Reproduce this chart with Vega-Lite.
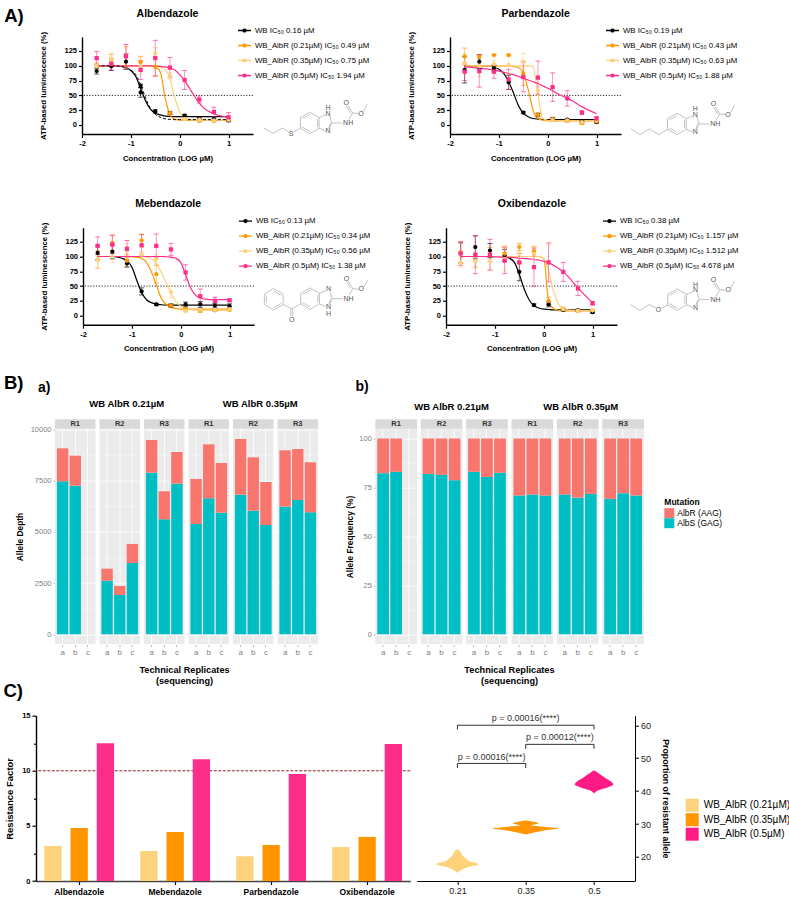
{
"$schema":"https://vega.github.io/schema/vega-lite/v6.json",
"padding":{"left":3,"top":6,"right":0,"bottom":0},
"background":"white",
"config":{"font":"Liberation Sans","view":{"stroke":null},"axis":{"grid":false,"domainColor":"#000","domainWidth":1.4,"tickColor":"#000","tickWidth":1.2,"tickSize":3.5,"labelFontSize":7.5,"labelFontWeight":"bold","labelColor":"#000","titleFontSize":7.8,"titleFontWeight":"bold","titleColor":"#000","labelPadding":2,"labelOverlap":false,"labelFlush":false},"legend":{"labelColor":"#000"}},
"datasets":{
"ring":[{"x":897,"y":349,"x2":925,"y2":333},{"x":925,"y":333,"x2":953,"y2":349},{"x":953,"y":349,"x2":953,"y2":381},{"x":953,"y":381,"x2":925,"y2":397},{"x":925,"y":397,"x2":897,"y2":381},{"x":897,"y":381,"x2":897,"y2":349},{"x":903,"y":352,"x2":925,"y2":340},{"x":948,"y":353,"x2":948,"y2":377},{"x":925,"y":390,"x2":902,"y2":377},{"x":953,"y":349,"x2":973,"y2":341},{"x":985,"y":344,"x2":991,"y2":365},{"x":991,"y":365,"x2":984,"y2":382},{"x":974,"y":389,"x2":953,"y2":381},{"x":987,"y":366,"x2":981,"y2":382},{"x":991,"y":365,"x2":1022,"y2":365},{"x":1042,"y":355,"x2":1053,"y2":335},{"x":1053,"y":335,"x2":1040,"y2":314},{"x":1047,"y":335,"x2":1034,"y2":314},{"x":1053,"y":335,"x2":1070,"y2":337},{"x":1086,"y":331,"x2":1097,"y2":309}],
"tail_alb":[{"x":787,"y":380,"x2":815,"y2":396},{"x":815,"y":396,"x2":843,"y2":380},{"x":843,"y":380,"x2":862,"y2":392},{"x":877,"y":392,"x2":897,"y2":381}],
"txt_alb":[{"x":980,"y":337,"t":"N"},{"x":980,"y":321,"t":"H"},{"x":980,"y":390,"t":"N"},{"x":1040,"y":365,"t":"NH"},{"x":1034,"y":306,"t":"O"},{"x":1078,"y":337,"t":"O"},{"x":869,"y":397,"t":"S"}],
"tail_par":[{"x":787,"y":380,"x2":815,"y2":397},{"x":815,"y":397,"x2":843,"y2":380},{"x":843,"y":380,"x2":871,"y2":397},{"x":871,"y":397,"x2":897,"y2":381}],
"txt_par":[{"x":980,"y":337,"t":"N"},{"x":980,"y":321,"t":"H"},{"x":980,"y":390,"t":"N"},{"x":1040,"y":365,"t":"NH"},{"x":1034,"y":306,"t":"O"},{"x":1078,"y":337,"t":"O"}],
"tail_oxi":[{"x":785,"y":380,"x2":813,"y2":397},{"x":813,"y":397,"x2":841,"y2":380},{"x":841,"y":380,"x2":862,"y2":390},{"x":878,"y":390,"x2":897,"y2":381}],
"txt_oxi":[{"x":980,"y":337,"t":"N"},{"x":980,"y":321,"t":"H"},{"x":980,"y":390,"t":"N"},{"x":1040,"y":365,"t":"NH"},{"x":1034,"y":306,"t":"O"},{"x":1078,"y":337,"t":"O"},{"x":869,"y":395,"t":"O"}],
"tail_meb":[{"x":816,"y":335,"x2":844,"y2":351},{"x":844,"y":351,"x2":844,"y2":383},{"x":844,"y":383,"x2":816,"y2":399},{"x":816,"y":399,"x2":788,"y2":383},{"x":788,"y":383,"x2":788,"y2":351},{"x":788,"y":351,"x2":816,"y2":335},{"x":816,"y":342,"x2":838,"y2":355},{"x":838,"y":379,"x2":816,"y2":392},{"x":794,"y":379,"x2":794,"y2":355},{"x":844,"y":383,"x2":870,"y2":395},{"x":870,"y":395,"x2":897,"y2":381},{"x":867,"y":395,"x2":867,"y2":418},{"x":873,"y":395,"x2":873,"y2":418}],
"txt_meb":[{"x":980,"y":337,"t":"N"},{"x":980,"y":411,"t":"H"},{"x":980,"y":391,"t":"N"},{"x":1040,"y":365,"t":"NH"},{"x":1034,"y":306,"t":"O"},{"x":1078,"y":337,"t":"O"},{"x":870,"y":428,"t":"O"}],
"alb_d":[{"x":-1.7,"y":100},{"x":-1.4,"y":100},{"x":-1.2,"y":99},{"x":-1.1,"y":97},{"x":-1,"y":93},{"x":-0.9,"y":85},{"x":-0.8,"y":68},{"x":-0.7,"y":46},{"x":-0.6,"y":28},{"x":-0.5,"y":18},{"x":-0.4,"y":13},{"x":-0.3,"y":10.5},{"x":-0.2,"y":9.5},{"x":-0.1,"y":9},{"x":0,"y":9},{"x":0.5,"y":9},{"x":1,"y":9}],
"alb_c":[{"x":-1.7,"WB":100,"A21":100,"A35":100,"A50":100},{"x":-1.4,"WB":100,"A21":100,"A35":100,"A50":100},{"x":-1.2,"WB":99,"A21":100,"A35":100,"A50":100},{"x":-1.1,"WB":97,"A21":100,"A35":100,"A50":100},{"x":-1,"WB":92,"A21":100,"A35":100,"A50":100},{"x":-0.9,"WB":82,"A21":100,"A35":100,"A50":100},{"x":-0.8,"WB":62,"A21":100,"A35":100,"A50":100},{"x":-0.7,"WB":41,"A21":100,"A35":100,"A50":100},{"x":-0.6,"WB":27,"A21":100,"A35":100,"A50":100},{"x":-0.5,"WB":20,"A21":98,"A35":100,"A50":99},{"x":-0.4,"WB":17,"A21":90,"A35":98,"A50":99},{"x":-0.3,"WB":15,"A21":47,"A35":94,"A50":98},{"x":-0.2,"WB":14.5,"A21":17,"A35":78,"A50":96},{"x":-0.1,"WB":14,"A21":10,"A35":46,"A50":93},{"x":0,"WB":14,"A21":8.5,"A35":22,"A50":85},{"x":0.1,"WB":14,"A21":8,"A35":12,"A50":75},{"x":0.2,"WB":14,"A21":8,"A35":9,"A50":62},{"x":0.3,"WB":14,"A21":8,"A35":8.5,"A50":49},{"x":0.4,"WB":14,"A21":8,"A35":8,"A50":37},{"x":0.5,"WB":14,"A21":8,"A35":8,"A50":28},{"x":0.7,"WB":14,"A21":8,"A35":8,"A50":19},{"x":1,"WB":14,"A21":8,"A35":8,"A50":13}],
"par_c":[{"x":-1.7,"WB":100,"A21":100,"A35":100,"A50":98},{"x":-1.4,"WB":100,"A21":100,"A35":100,"A50":96},{"x":-1.2,"WB":100,"A21":100,"A35":100,"A50":94},{"x":-1.1,"WB":98,"A21":100,"A35":100,"A50":93},{"x":-1,"WB":94,"A21":100,"A35":100,"A50":91},{"x":-0.9,"WB":87,"A21":100,"A35":100,"A50":89},{"x":-0.8,"WB":73,"A21":99.5,"A35":100,"A50":87},{"x":-0.7,"WB":54,"A21":99,"A35":100,"A50":85},{"x":-0.6,"WB":33,"A21":97,"A35":100,"A50":82},{"x":-0.5,"WB":20,"A21":88,"A35":100,"A50":79},{"x":-0.4,"WB":14,"A21":60,"A35":100,"A50":76},{"x":-0.3,"WB":11,"A21":25,"A35":99,"A50":73},{"x":-0.2,"WB":10,"A21":11,"A35":50,"A50":70},{"x":-0.1,"WB":9.5,"A21":8,"A35":11,"A50":66},{"x":0,"WB":9,"A21":7,"A35":8,"A50":62},{"x":0.1,"WB":9,"A21":7,"A35":7,"A50":58},{"x":0.2,"WB":9,"A21":7,"A35":7,"A50":53},{"x":0.3,"WB":9,"A21":7,"A35":7,"A50":49},{"x":0.4,"WB":9,"A21":7,"A35":7,"A50":45},{"x":0.5,"WB":9,"A21":7,"A35":7,"A50":41},{"x":0.7,"WB":9,"A21":7,"A35":7,"A50":31},{"x":1,"WB":9,"A21":7,"A35":7,"A50":19}],
"meb_c":[{"x":-1.7,"WB":100,"A21":100,"A35":100,"A50":100},{"x":-1.4,"WB":100,"A21":100,"A35":100,"A50":100},{"x":-1.2,"WB":97,"A21":100,"A35":100,"A50":100},{"x":-1.1,"WB":93,"A21":100,"A35":100,"A50":100},{"x":-1,"WB":82,"A21":99.5,"A35":100,"A50":100},{"x":-0.9,"WB":60,"A21":99,"A35":100,"A50":100},{"x":-0.8,"WB":39,"A21":97,"A35":100,"A50":100},{"x":-0.7,"WB":27,"A21":90,"A35":99,"A50":100},{"x":-0.6,"WB":22,"A21":74,"A35":96,"A50":100},{"x":-0.5,"WB":19.5,"A21":52,"A35":88,"A50":100},{"x":-0.4,"WB":18.5,"A21":30,"A35":74,"A50":100},{"x":-0.3,"WB":18,"A21":19,"A35":56,"A50":99.5},{"x":-0.2,"WB":18,"A21":14,"A35":38,"A50":99},{"x":-0.1,"WB":18,"A21":12,"A35":24,"A50":97},{"x":0,"WB":18,"A21":11,"A35":16,"A50":90},{"x":0.1,"WB":18,"A21":11,"A35":12,"A50":70},{"x":0.2,"WB":18,"A21":11,"A35":10,"A50":47},{"x":0.3,"WB":18,"A21":11,"A35":9.5,"A50":35},{"x":0.4,"WB":18,"A21":11,"A35":9,"A50":30},{"x":0.5,"WB":18,"A21":11,"A35":9,"A50":28},{"x":0.7,"WB":18,"A21":11,"A35":9,"A50":27},{"x":1,"WB":18,"A21":11,"A35":9,"A50":27}],
"oxi_c":[{"x":-1.7,"WB":100,"A21":100,"A35":100,"A50":100},{"x":-1.4,"WB":100,"A21":100,"A35":100,"A50":100},{"x":-1.2,"WB":100,"A21":100,"A35":100,"A50":100},{"x":-1.1,"WB":100,"A21":100,"A35":100,"A50":99.5},{"x":-1,"WB":100,"A21":100,"A35":100,"A50":99.5},{"x":-0.9,"WB":100,"A21":100,"A35":100,"A50":99},{"x":-0.8,"WB":99,"A21":100,"A35":100,"A50":99},{"x":-0.7,"WB":97,"A21":100,"A35":100,"A50":98.5},{"x":-0.6,"WB":90,"A21":100,"A35":100,"A50":98},{"x":-0.5,"WB":70,"A21":100,"A35":100,"A50":97},{"x":-0.4,"WB":45,"A21":100,"A35":100,"A50":96.5},{"x":-0.3,"WB":27,"A21":100,"A35":100,"A50":96},{"x":-0.2,"WB":17,"A21":100,"A35":100,"A50":95},{"x":-0.1,"WB":13,"A21":100,"A35":100,"A50":94},{"x":0,"WB":11,"A21":97,"A35":97,"A50":92},{"x":0.1,"WB":10.5,"A21":25,"A35":75,"A50":90},{"x":0.2,"WB":10,"A21":12,"A35":42,"A50":85},{"x":0.3,"WB":10,"A21":9,"A35":20,"A50":80},{"x":0.4,"WB":10,"A21":8.5,"A35":12,"A50":74},{"x":0.5,"WB":10,"A21":8,"A35":9.5,"A50":66},{"x":0.7,"WB":10,"A21":8,"A35":8.5,"A50":47},{"x":1,"WB":10,"A21":8,"A35":8,"A50":22}],
"alb_p":[{"s":"WB","x":-1.7,"y":91,"lo":86,"hi":96},{"s":"WB","x":-1.4,"y":99,"lo":92,"hi":106},{"s":"WB","x":-1.1,"y":107,"lo":94,"hi":120},{"s":"WB","x":-0.8,"y":55,"lo":47,"hi":63},{"s":"WB","x":-0.8,"y":66,"lo":63,"hi":69},{"s":"WB","x":-0.5,"y":23,"lo":20,"hi":26},{"s":"WB","x":-0.2,"y":20,"lo":18,"hi":22},{"s":"WB","x":0.1,"y":16,"lo":14,"hi":18},{"s":"WB","x":0.4,"y":11,"lo":9,"hi":13},{"s":"WB","x":0.7,"y":10,"lo":8,"hi":12},{"s":"WB","x":1,"y":8,"lo":6,"hi":10},
{"s":"A21","x":-1.7,"y":100,"lo":96,"hi":104},{"s":"A21","x":-1.4,"y":111,"lo":103,"hi":119},{"s":"A21","x":-1.1,"y":116,"lo":100,"hi":132},{"s":"A21","x":-0.8,"y":106,"lo":96,"hi":116},{"s":"A21","x":-0.5,"y":98,"lo":82,"hi":114},{"s":"A21","x":-0.2,"y":20,"lo":17,"hi":23},{"s":"A21","x":0.1,"y":10,"lo":8,"hi":12},{"s":"A21","x":0.4,"y":7,"lo":5,"hi":9},{"s":"A21","x":0.7,"y":7,"lo":5,"hi":9},{"s":"A21","x":1,"y":9,"lo":7,"hi":11},
{"s":"A35","x":-1.7,"y":100,"lo":95,"hi":105},{"s":"A35","x":-1.4,"y":112,"lo":102,"hi":122},{"s":"A35","x":-1.1,"y":116,"lo":96,"hi":136},{"s":"A35","x":-0.8,"y":100,"lo":85,"hi":115},{"s":"A35","x":-0.5,"y":121,"lo":111,"hi":131},{"s":"A35","x":-0.2,"y":82,"lo":76,"hi":88},{"s":"A35","x":0.1,"y":10,"lo":8,"hi":12},{"s":"A35","x":0.4,"y":9,"lo":7,"hi":11},{"s":"A35","x":0.7,"y":8,"lo":6,"hi":10},{"s":"A35","x":1,"y":9,"lo":7,"hi":11},
{"s":"A50","x":-1.7,"y":113,"lo":102,"hi":124},{"s":"A50","x":-1.4,"y":103,"lo":93,"hi":113},{"s":"A50","x":-1.1,"y":116,"lo":96,"hi":136},{"s":"A50","x":-0.8,"y":93,"lo":77,"hi":109},{"s":"A50","x":-0.5,"y":113,"lo":83,"hi":143},{"s":"A50","x":-0.2,"y":97,"lo":80,"hi":114},{"s":"A50","x":0.1,"y":76,"lo":60,"hi":92},{"s":"A50","x":0.4,"y":43,"lo":37,"hi":49},{"s":"A50","x":0.7,"y":22,"lo":14,"hi":30},{"s":"A50","x":1,"y":13,"lo":5,"hi":21}],
"par_p":[{"s":"WB","x":-1.7,"y":93,"lo":71,"hi":115},{"s":"WB","x":-1.4,"y":107,"lo":95,"hi":119},{"s":"WB","x":-1.1,"y":96,"lo":91,"hi":101},{"s":"WB","x":-0.8,"y":72,"lo":60,"hi":84},{"s":"WB","x":-0.5,"y":21,"lo":19,"hi":23},{"s":"WB","x":-0.2,"y":17,"lo":14,"hi":20},{"s":"WB","x":0.1,"y":10,"lo":7,"hi":13},{"s":"WB","x":0.4,"y":9,"lo":7,"hi":11},{"s":"WB","x":0.7,"y":6,"lo":4,"hi":8},{"s":"WB","x":1,"y":5,"lo":3,"hi":7},
{"s":"A21","x":-1.7,"y":116,"lo":102,"hi":130},{"s":"A21","x":-1.4,"y":115,"lo":112,"hi":118},{"s":"A21","x":-1.1,"y":118,"lo":117,"hi":119},{"s":"A21","x":-0.8,"y":118,"lo":117,"hi":119},{"s":"A21","x":-0.5,"y":87,"lo":67,"hi":107},{"s":"A21","x":-0.2,"y":17,"lo":14,"hi":20},{"s":"A21","x":0.1,"y":10,"lo":8,"hi":12},{"s":"A21","x":0.4,"y":7,"lo":5,"hi":9},{"s":"A21","x":0.7,"y":3,"lo":1,"hi":5},{"s":"A21","x":1,"y":6,"lo":4,"hi":8},
{"s":"A35","x":-1.7,"y":105,"lo":90,"hi":120},{"s":"A35","x":-1.4,"y":100,"lo":82,"hi":118},{"s":"A35","x":-1.1,"y":103,"lo":97,"hi":109},{"s":"A35","x":-0.8,"y":101,"lo":86,"hi":116},{"s":"A35","x":-0.5,"y":107,"lo":93,"hi":121},{"s":"A35","x":-0.2,"y":58,"lo":50,"hi":66},{"s":"A35","x":0.1,"y":8,"lo":6,"hi":10},{"s":"A35","x":0.4,"y":8,"lo":6,"hi":10},{"s":"A35","x":0.7,"y":5,"lo":3,"hi":7},{"s":"A35","x":1,"y":8,"lo":6,"hi":10},
{"s":"A50","x":-1.7,"y":90,"lo":75,"hi":105},{"s":"A50","x":-1.4,"y":91,"lo":64,"hi":118},{"s":"A50","x":-1.1,"y":90,"lo":79,"hi":101},{"s":"A50","x":-0.8,"y":77,"lo":60,"hi":94},{"s":"A50","x":-0.5,"y":81,"lo":56,"hi":106},{"s":"A50","x":-0.2,"y":80,"lo":52,"hi":108},{"s":"A50","x":0.1,"y":64,"lo":40,"hi":88},{"s":"A50","x":0.4,"y":45,"lo":32,"hi":58},{"s":"A50","x":0.7,"y":21,"lo":18,"hi":24},{"s":"A50","x":1,"y":11,"lo":8,"hi":14}],
"meb_p":[{"s":"WB","x":-1.7,"y":106,"lo":94,"hi":118},{"s":"WB","x":-1.4,"y":108,"lo":96,"hi":120},{"s":"WB","x":-1.1,"y":88,"lo":82,"hi":94},{"s":"WB","x":-0.8,"y":41,"lo":35,"hi":47},{"s":"WB","x":-0.5,"y":19,"lo":17,"hi":21},{"s":"WB","x":-0.2,"y":17,"lo":14,"hi":20},{"s":"WB","x":0.1,"y":19,"lo":15,"hi":23},{"s":"WB","x":0.4,"y":19,"lo":14,"hi":24},{"s":"WB","x":0.7,"y":17,"lo":13,"hi":21},{"s":"WB","x":1,"y":16,"lo":12,"hi":20},
{"s":"A21","x":-1.7,"y":95,"lo":80,"hi":110},{"s":"A21","x":-1.4,"y":123,"lo":109,"hi":137},{"s":"A21","x":-1.1,"y":93,"lo":83,"hi":103},{"s":"A21","x":-0.8,"y":127,"lo":116,"hi":138},{"s":"A21","x":-0.5,"y":70,"lo":55,"hi":85},{"s":"A21","x":-0.2,"y":17,"lo":14,"hi":20},{"s":"A21","x":0.1,"y":11,"lo":8,"hi":14},{"s":"A21","x":0.4,"y":8,"lo":6,"hi":10},{"s":"A21","x":0.7,"y":9,"lo":7,"hi":11},{"s":"A21","x":1,"y":10,"lo":8,"hi":12},
{"s":"A35","x":-1.7,"y":95,"lo":80,"hi":110},{"s":"A35","x":-1.4,"y":100,"lo":90,"hi":110},{"s":"A35","x":-1.1,"y":110,"lo":98,"hi":122},{"s":"A35","x":-0.8,"y":104,"lo":100,"hi":108},{"s":"A35","x":-0.5,"y":95,"lo":87,"hi":103},{"s":"A35","x":-0.2,"y":40,"lo":30,"hi":50},{"s":"A35","x":0.1,"y":8,"lo":5,"hi":11},{"s":"A35","x":0.4,"y":10,"lo":8,"hi":12},{"s":"A35","x":0.7,"y":10,"lo":8,"hi":12},{"s":"A35","x":1,"y":11,"lo":9,"hi":13},
{"s":"A50","x":-1.7,"y":118,"lo":103,"hi":133},{"s":"A50","x":-1.4,"y":120,"lo":105,"hi":135},{"s":"A50","x":-1.1,"y":113,"lo":99,"hi":127},{"s":"A50","x":-0.8,"y":119,"lo":101,"hi":137},{"s":"A50","x":-0.5,"y":118,"lo":98,"hi":138},{"s":"A50","x":-0.2,"y":112,"lo":102,"hi":122},{"s":"A50","x":0.1,"y":73,"lo":60,"hi":86},{"s":"A50","x":0.4,"y":33,"lo":21,"hi":45},{"s":"A50","x":0.7,"y":25,"lo":19,"hi":31},{"s":"A50","x":1,"y":26,"lo":24,"hi":28}],
"oxi_p":[{"s":"WB","x":-1.7,"y":106,"lo":89,"hi":123},{"s":"WB","x":-1.4,"y":116,"lo":97,"hi":135},{"s":"WB","x":-1.1,"y":110,"lo":98,"hi":122},{"s":"WB","x":-0.8,"y":102,"lo":92,"hi":112},{"s":"WB","x":-0.5,"y":74,"lo":59,"hi":89},{"s":"WB","x":-0.2,"y":18,"lo":16,"hi":20},{"s":"WB","x":0.1,"y":19,"lo":15,"hi":23},{"s":"WB","x":0.4,"y":10,"lo":8,"hi":12},{"s":"WB","x":0.7,"y":9,"lo":7,"hi":11},{"s":"WB","x":1,"y":6,"lo":4,"hi":8},
{"s":"A21","x":-1.7,"y":107,"lo":89,"hi":125},{"s":"A21","x":-1.4,"y":93,"lo":82,"hi":104},{"s":"A21","x":-1.1,"y":103,"lo":91,"hi":115},{"s":"A21","x":-0.8,"y":105,"lo":92,"hi":118},{"s":"A21","x":-0.5,"y":116,"lo":110,"hi":122},{"s":"A21","x":-0.2,"y":109,"lo":101,"hi":117},{"s":"A21","x":0.1,"y":25,"lo":19,"hi":31},{"s":"A21","x":0.4,"y":12,"lo":10,"hi":14},{"s":"A21","x":0.7,"y":8,"lo":6,"hi":10},{"s":"A21","x":1,"y":9,"lo":8,"hi":10},
{"s":"A35","x":-1.7,"y":90,"lo":82,"hi":98},{"s":"A35","x":-1.4,"y":92,"lo":81,"hi":103},{"s":"A35","x":-1.1,"y":92,"lo":77,"hi":107},{"s":"A35","x":-0.8,"y":96,"lo":76,"hi":116},{"s":"A35","x":-0.5,"y":105,"lo":89,"hi":121},{"s":"A35","x":-0.2,"y":105,"lo":95,"hi":115},{"s":"A35","x":0.1,"y":90,"lo":60,"hi":120},{"s":"A35","x":0.4,"y":11,"lo":9,"hi":13},{"s":"A35","x":0.7,"y":8,"lo":6,"hi":10},{"s":"A35","x":1,"y":9,"lo":7,"hi":11},
{"s":"A50","x":-1.7,"y":105,"lo":85,"hi":125},{"s":"A50","x":-1.4,"y":103,"lo":71,"hi":135},{"s":"A50","x":-1.1,"y":103,"lo":77,"hi":129},{"s":"A50","x":-0.8,"y":93,"lo":71,"hi":115},{"s":"A50","x":-0.5,"y":90,"lo":75,"hi":105},{"s":"A50","x":-0.2,"y":82,"lo":50,"hi":114},{"s":"A50","x":0.1,"y":90,"lo":57,"hi":123},{"s":"A50","x":0.4,"y":74,"lo":58,"hi":90},{"s":"A50","x":0.7,"y":46,"lo":34,"hi":58},{"s":"A50","x":1,"y":21,"lo":18,"hi":24}],
"ba":[{"p":"0.21 R1","r":"R1","rep":"a","S":7463,"T":9073},{"p":"0.21 R1","r":"R1","rep":"b","S":7252,"T":8715},{"p":"0.21 R2","r":"R2","rep":"a","S":2618,"T":3203},{"p":"0.21 R2","r":"R2","rep":"b","S":1919,"T":2358},{"p":"0.21 R2","r":"R2","rep":"c","S":3480,"T":4407},{"p":"0.21 R3","r":"R3","rep":"a","S":7886,"T":9480},{"p":"0.21 R3","r":"R3","rep":"b","S":5610,"T":6976},{"p":"0.21 R3","r":"R3","rep":"c","S":7350,"T":8894},{"p":"0.35 R1","r":"R1","rep":"a","S":5382,"T":7577},{"p":"0.35 R1","r":"R1","rep":"b","S":6634,"T":9268},{"p":"0.35 R1","r":"R1","rep":"c","S":5935,"T":8358},{"p":"0.35 R2","r":"R2","rep":"a","S":6813,"T":9528},{"p":"0.35 R2","r":"R2","rep":"b","S":6033,"T":8634},{"p":"0.35 R2","r":"R2","rep":"c","S":5333,"T":7431},{"p":"0.35 R3","r":"R3","rep":"a","S":6228,"T":8976},{"p":"0.35 R3","r":"R3","rep":"b","S":6553,"T":9041},{"p":"0.35 R3","r":"R3","rep":"c","S":5951,"T":8390}],
"bb":[{"p":"0.21 R1","r":"R1","rep":"a","S":82.3,"T":100},{"p":"0.21 R1","r":"R1","rep":"b","S":83,"T":100},{"p":"0.21 R2","r":"R2","rep":"a","S":81.9,"T":100},{"p":"0.21 R2","r":"R2","rep":"b","S":81.4,"T":100},{"p":"0.21 R2","r":"R2","rep":"c","S":78.7,"T":100},{"p":"0.21 R3","r":"R3","rep":"a","S":83,"T":100},{"p":"0.21 R3","r":"R3","rep":"b","S":80.4,"T":100},{"p":"0.21 R3","r":"R3","rep":"c","S":82.5,"T":100},{"p":"0.35 R1","r":"R1","rep":"a","S":70.9,"T":100},{"p":"0.35 R1","r":"R1","rep":"b","S":71.4,"T":100},{"p":"0.35 R1","r":"R1","rep":"c","S":70.9,"T":100},{"p":"0.35 R2","r":"R2","rep":"a","S":71.4,"T":100},{"p":"0.35 R2","r":"R2","rep":"b","S":69.8,"T":100},{"p":"0.35 R2","r":"R2","rep":"c","S":71.7,"T":100},{"p":"0.35 R3","r":"R3","rep":"a","S":69.2,"T":100},{"p":"0.35 R3","r":"R3","rep":"b","S":72.1,"T":100},{"p":"0.35 R3","r":"R3","rep":"c","S":70.9,"T":100}],
"rf":[{"drug":"Albendazole","d":"WB_AlbR (0.21µM)","v":3.18},{"drug":"Albendazole","d":"WB_AlbR (0.35µM)","v":4.8},{"drug":"Albendazole","d":"WB_AlbR (0.5µM)","v":12.5},{"drug":"Mebendazole","d":"WB_AlbR (0.21µM)","v":2.72},{"drug":"Mebendazole","d":"WB_AlbR (0.35µM)","v":4.45},{"drug":"Mebendazole","d":"WB_AlbR (0.5µM)","v":11.04},{"drug":"Parbendazole","d":"WB_AlbR (0.21µM)","v":2.24},{"drug":"Parbendazole","d":"WB_AlbR (0.35µM)","v":3.27},{"drug":"Parbendazole","d":"WB_AlbR (0.5µM)","v":9.7},{"drug":"Oxibendazole","d":"WB_AlbR (0.21µM)","v":3.08},{"drug":"Oxibendazole","d":"WB_AlbR (0.35µM)","v":4},{"drug":"Oxibendazole","d":"WB_AlbR (0.5µM)","v":12.43}],
"violin":[{"d":"WB_AlbR (0.21µM)","y":22.5,"lo":1,"hi":1},{"d":"WB_AlbR (0.21µM)","y":21.5,"lo":0.951,"hi":1.049},{"d":"WB_AlbR (0.21µM)","y":20.6,"lo":0.932,"hi":1.068},{"d":"WB_AlbR (0.21µM)","y":19.8,"lo":0.893,"hi":1.107},{"d":"WB_AlbR (0.21µM)","y":18.8,"lo":0.829,"hi":1.171},{"d":"WB_AlbR (0.21µM)","y":17.8,"lo":0.683,"hi":1.317},{"d":"WB_AlbR (0.21µM)","y":17,"lo":0.829,"hi":1.171},{"d":"WB_AlbR (0.21µM)","y":16.2,"lo":0.927,"hi":1.073},{"d":"WB_AlbR (0.21µM)","y":15.2,"lo":1,"hi":1},
{"d":"WB_AlbR (0.35µM)","y":31.1,"lo":2,"hi":2},{"d":"WB_AlbR (0.35µM)","y":30.2,"lo":1.815,"hi":2.185},{"d":"WB_AlbR (0.35µM)","y":29.6,"lo":1.927,"hi":2.073},{"d":"WB_AlbR (0.35µM)","y":29.1,"lo":1.707,"hi":2.293},{"d":"WB_AlbR (0.35µM)","y":28.7,"lo":1.507,"hi":2.493},{"d":"WB_AlbR (0.35µM)","y":28.1,"lo":1.707,"hi":2.293},{"d":"WB_AlbR (0.35µM)","y":27.4,"lo":1.878,"hi":2.122},{"d":"WB_AlbR (0.35µM)","y":26.8,"lo":2,"hi":2},
{"d":"WB_AlbR (0.5µM)","y":46.3,"lo":3,"hi":3},{"d":"WB_AlbR (0.5µM)","y":45.1,"lo":2.912,"hi":3.088},{"d":"WB_AlbR (0.5µM)","y":43.9,"lo":2.829,"hi":3.171},{"d":"WB_AlbR (0.5µM)","y":43,"lo":2.756,"hi":3.244},{"d":"WB_AlbR (0.5µM)","y":42,"lo":2.717,"hi":3.283},{"d":"WB_AlbR (0.5µM)","y":41.1,"lo":2.805,"hi":3.195},{"d":"WB_AlbR (0.5µM)","y":40.3,"lo":2.927,"hi":3.073},{"d":"WB_AlbR (0.5µM)","y":39.25,"lo":3,"hi":3}],
"brackets":[{"x":1,"x2":3,"y":60,"y2":60},{"x":1,"x2":1,"y":60,"y2":58.7},{"x":3,"x2":3,"y":60,"y2":58.7},{"x":2,"x2":3,"y":54.2,"y2":54.2},{"x":2,"x2":2,"y":54.2,"y2":52.8},{"x":3,"x2":3,"y":54.2,"y2":52.8},{"x":1,"x2":2,"y":48.4,"y2":48.4},{"x":1,"x2":1,"y":48.4,"y2":47},{"x":2,"x2":2,"y":48.4,"y2":47}],
"ptext":[{"x":2,"y":62.1,"t":"p = 0.00016(****)"},{"x":2.5,"y":56.3,"t":"p = 0.00012(****)"},{"x":1.5,"y":50.5,"t":"p = 0.00016(****)"}]
},
"bounds":"flush","spacing":391.7,"resolve":{"scale":{"color":"independent","shape":"independent"}},
"vconcat":[
{"bounds":"flush","spacing":190.7,"resolve":{"scale":{"color":"independent","shape":"independent"}},"vconcat":[
 {"bounds":"flush","spacing":0,"resolve":{"scale":{"color":"independent","shape":"independent"}},"hconcat":[
  {"width":46,"height":1,"data":{"values":[]},"mark":"rect","encoding":{}},
  {"bounds":"flush","spacing":197,"resolve":{"scale":{"color":"independent","shape":"independent"}},"hconcat":[
   {"width":171,"height":97,"resolve":{"scale":{"x":"independent","y":"independent"}},"layer":[
    {"layer":[
     {"data":{"values":[{"k":1}]},"mark":{"type":"rule","strokeDash":[1.2,1.6],"color":"#222","strokeWidth":1},"encoding":{"y":{"datum":50,"type":"quantitative","title":"ATP-based luminescence (%)","axis":{"values":[0,25,50,75,100,125],"tickCount":20,"titlePadding":16,"labelOverlap":false}}}},
     {"encoding":{"x":{"field":"x","type":"quantitative","title":"Concentration (LOG µM)","scale":{"domain":[-2,1.5],"nice":false,"zero":false},"axis":{"values":[-2,-1,0,1],"titlePadding":7,"labelExpr":"toString(datum.value)","labelOverlap":false}},"color":{"field":"s","type":"nominal","scale":{"domain":["WB","A21","A35","A50"],"range":["#000000","#FF9800","#FDD27F","#FF2D8A"]}}},"layer":[
      {"data":{"name":"alb_c"},"transform":[{"fold":["WB","A21","A35","A50"],"as":["s","y"]}],"mark":{"type":"line","interpolate":"monotone","strokeWidth":1.2},"encoding":{"y":{"field":"y","type":"quantitative","title":"ATP-based luminescence (%)","scale":{"domain":[-15.2,148.6],"nice":false,"zero":false},"axis":{"values":[0,25,50,75,100,125],"tickCount":20,"titlePadding":16,"labelOverlap":false}}}},
      {"data":{"name":"alb_d"},"mark":{"type":"line","interpolate":"monotone","strokeWidth":1,"strokeDash":[3,2]},"encoding":{"y":{"field":"y","type":"quantitative","title":"ATP-based luminescence (%)"},"color":{"value":"#000"}}},
      {"data":{"name":"alb_p"},"mark":{"type":"errorbar","ticks":{"size":5,"opacity":0.65},"rule":{"strokeWidth":0.8,"opacity":0.65}},"encoding":{"y":{"field":"lo","type":"quantitative","title":"ATP-based luminescence (%)"},"y2":{"field":"hi"}}},
      {"data":{"name":"alb_p"},"transform":[{"filter":"datum.s!='A50'"}],"mark":{"type":"point","filled":true,"size":18,"opacity":1},"encoding":{"y":{"field":"y","type":"quantitative","title":"ATP-based luminescence (%)"},"color":{"field":"s","type":"nominal","legend":{"orient":"none","legendX":156,"legendY":-13,"title":null,"labelFontSize":7.8,"labelLimit":220,"symbolType":"M-1,-0.1H-0.32A0.34,0.34 0 0 1 0.32,-0.1H1V0.1H0.32A0.34,0.34 0 0 1 -0.32,0.1H-1Z","symbolSize":169,"symbolStrokeWidth":0,"rowPadding":4,"labelOffset":4,"labelExpr":"{'WB':'WB IC₅₀ 0.16 µM','A21':'WB_AlbR (0.21µM) IC₅₀ 0.49 µM','A35':'WB_AlbR (0.35µM) IC₅₀ 0.75 µM','A50':'WB_AlbR (0.5µM) IC₅₀ 1.94 µM'}[datum.label]","encoding":{"symbols":{"shape":{"signal":"datum.value==='A50'?'M-1,-0.1H-0.32V-0.36H0.32V-0.1H1V0.1H0.32V0.36H-0.32V0.1H-1Z':'M-1,-0.1H-0.32A0.34,0.34 0 0 1 0.32,-0.1H1V0.1H0.32A0.34,0.34 0 0 1 -0.32,0.1H-1Z'"}}}}}}},
      {"data":{"name":"alb_p"},"transform":[{"filter":"datum.s=='A50'"}],"mark":{"type":"point","filled":true,"size":18,"opacity":1,"shape":"square"},"encoding":{"y":{"field":"y","type":"quantitative","title":"ATP-based luminescence (%)"}}}
     ]}
    ]},
    {"encoding":{"x":{"field":"x","type":"quantitative","axis":null,"scale":{"domain":[243,755],"nice":false,"zero":false}},"y":{"field":"y","type":"quantitative","axis":null,"scale":{"domain":[398,108],"nice":false,"zero":false}}},"layer":[
     {"data":{"name":"ring"},"mark":{"type":"rule","color":"#a8a8a8","strokeWidth":0.7},"encoding":{"x2":{"field":"x2"},"y2":{"field":"y2"}}},
     {"data":{"name":"tail_alb"},"mark":{"type":"rule","color":"#a8a8a8","strokeWidth":0.7},"encoding":{"x2":{"field":"x2"},"y2":{"field":"y2"}}},
     {"data":{"name":"txt_alb"},"mark":{"type":"text","fontSize":7,"color":"#555"},"encoding":{"text":{"field":"t"}}},
     {"data":{"values":[{"x":499,"y":38,"t":"Albendazole"}]},"mark":{"type":"text","fontSize":10.5,"fontWeight":"bold","color":"#000"},"encoding":{"text":{"field":"t"}}},
     {"data":{"values":[{"x":10,"y":45,"t":"A)"}]},"mark":{"type":"text","fontSize":18.5,"fontWeight":"bold","align":"left","color":"#000"},"encoding":{"text":{"field":"t"}}}
    ]}
   ]},
   {"width":171,"height":97,"resolve":{"scale":{"x":"independent","y":"independent"}},"layer":[
    {"layer":[
     {"data":{"values":[{"k":1}]},"mark":{"type":"rule","strokeDash":[1.2,1.6],"color":"#222","strokeWidth":1},"encoding":{"y":{"datum":50,"type":"quantitative","title":"ATP-based luminescence (%)","axis":{"values":[0,25,50,75,100,125],"tickCount":20,"titlePadding":16,"labelOverlap":false}}}},
     {"encoding":{"x":{"field":"x","type":"quantitative","title":"Concentration (LOG µM)","scale":{"domain":[-2,1.5],"nice":false,"zero":false},"axis":{"values":[-2,-1,0,1],"titlePadding":7,"labelExpr":"toString(datum.value)","labelOverlap":false}},"color":{"field":"s","type":"nominal","scale":{"domain":["WB","A21","A35","A50"],"range":["#000000","#FF9800","#FDD27F","#FF2D8A"]}}},"layer":[
      {"data":{"name":"par_c"},"transform":[{"fold":["WB","A21","A35","A50"],"as":["s","y"]}],"mark":{"type":"line","interpolate":"monotone","strokeWidth":1.2},"encoding":{"y":{"field":"y","type":"quantitative","title":"ATP-based luminescence (%)","scale":{"domain":[-15.2,148.6],"nice":false,"zero":false},"axis":{"values":[0,25,50,75,100,125],"tickCount":20,"titlePadding":16,"labelOverlap":false}}}},
      {"data":{"name":"par_p"},"mark":{"type":"errorbar","ticks":{"size":5,"opacity":0.65},"rule":{"strokeWidth":0.8,"opacity":0.65}},"encoding":{"y":{"field":"lo","type":"quantitative","title":"ATP-based luminescence (%)"},"y2":{"field":"hi"}}},
      {"data":{"name":"par_p"},"transform":[{"filter":"datum.s!='A50'"}],"mark":{"type":"point","filled":true,"size":18,"opacity":1},"encoding":{"y":{"field":"y","type":"quantitative","title":"ATP-based luminescence (%)"},"color":{"field":"s","type":"nominal","legend":{"orient":"none","legendX":156,"legendY":-13,"title":null,"labelFontSize":7.8,"labelLimit":220,"symbolType":"M-1,-0.1H-0.32A0.34,0.34 0 0 1 0.32,-0.1H1V0.1H0.32A0.34,0.34 0 0 1 -0.32,0.1H-1Z","symbolSize":169,"symbolStrokeWidth":0,"rowPadding":4,"labelOffset":4,"labelExpr":"{'WB':'WB IC₅₀ 0.19 µM','A21':'WB_AlbR (0.21µM) IC₅₀ 0.43 µM','A35':'WB_AlbR (0.35µM) IC₅₀ 0.63 µM','A50':'WB_AlbR (0.5µM) IC₅₀ 1.88 µM'}[datum.label]","encoding":{"symbols":{"shape":{"signal":"datum.value==='A50'?'M-1,-0.1H-0.32V-0.36H0.32V-0.1H1V0.1H0.32V0.36H-0.32V0.1H-1Z':'M-1,-0.1H-0.32A0.34,0.34 0 0 1 0.32,-0.1H1V0.1H0.32A0.34,0.34 0 0 1 -0.32,0.1H-1Z'"}}}}}}},
      {"data":{"name":"par_p"},"transform":[{"filter":"datum.s=='A50'"}],"mark":{"type":"point","filled":true,"size":18,"opacity":1,"shape":"square"},"encoding":{"y":{"field":"y","type":"quantitative","title":"ATP-based luminescence (%)"}}}
     ]}
    ]},
    {"encoding":{"x":{"field":"x","type":"quantitative","axis":null,"scale":{"domain":[247,758],"nice":false,"zero":false}},"y":{"field":"y","type":"quantitative","axis":null,"scale":{"domain":[395,105],"nice":false,"zero":false}}},"layer":[
     {"data":{"name":"ring"},"mark":{"type":"rule","color":"#a8a8a8","strokeWidth":0.7},"encoding":{"x2":{"field":"x2"},"y2":{"field":"y2"}}},
     {"data":{"name":"tail_par"},"mark":{"type":"rule","color":"#a8a8a8","strokeWidth":0.7},"encoding":{"x2":{"field":"x2"},"y2":{"field":"y2"}}},
     {"data":{"name":"txt_par"},"mark":{"type":"text","fontSize":7,"color":"#555"},"encoding":{"text":{"field":"t"}}},
     {"data":{"values":[{"x":503,"y":35,"t":"Parbendazole"}]},"mark":{"type":"text","fontSize":10.5,"fontWeight":"bold","color":"#000"},"encoding":{"text":{"field":"t"}}}
    ]}
   ]}
  ]}
 ]},
 {"bounds":"flush","spacing":0,"resolve":{"scale":{"color":"independent","shape":"independent"}},"hconcat":[
  {"width":46.7,"height":1,"data":{"values":[]},"mark":"rect","encoding":{}},
  {"bounds":"flush","spacing":192,"resolve":{"scale":{"color":"independent","shape":"independent"}},"hconcat":[
   {"width":171,"height":97,"resolve":{"scale":{"x":"independent","y":"independent"}},"layer":[
    {"layer":[
     {"data":{"values":[{"k":1}]},"mark":{"type":"rule","strokeDash":[1.2,1.6],"color":"#222","strokeWidth":1},"encoding":{"y":{"datum":50,"type":"quantitative","title":"ATP-based luminescence (%)","axis":{"values":[0,25,50,75,100,125],"tickCount":20,"titlePadding":16,"labelOverlap":false}}}},
     {"encoding":{"x":{"field":"x","type":"quantitative","title":"Concentration (LOG µM)","scale":{"domain":[-2,1.5],"nice":false,"zero":false},"axis":{"values":[-2,-1,0,1],"titlePadding":7,"labelExpr":"toString(datum.value)","labelOverlap":false}},"color":{"field":"s","type":"nominal","scale":{"domain":["WB","A21","A35","A50"],"range":["#000000","#FF9800","#FDD27F","#FF2D8A"]}}},"layer":[
      {"data":{"name":"meb_c"},"transform":[{"fold":["WB","A21","A35","A50"],"as":["s","y"]}],"mark":{"type":"line","interpolate":"monotone","strokeWidth":1.2},"encoding":{"y":{"field":"y","type":"quantitative","title":"ATP-based luminescence (%)","scale":{"domain":[-15.2,148.6],"nice":false,"zero":false},"axis":{"values":[0,25,50,75,100,125],"tickCount":20,"titlePadding":16,"labelOverlap":false}}}},
      {"data":{"name":"meb_p"},"mark":{"type":"errorbar","ticks":{"size":5,"opacity":0.65},"rule":{"strokeWidth":0.8,"opacity":0.65}},"encoding":{"y":{"field":"lo","type":"quantitative","title":"ATP-based luminescence (%)"},"y2":{"field":"hi"}}},
      {"data":{"name":"meb_p"},"transform":[{"filter":"datum.s!='A50'"}],"mark":{"type":"point","filled":true,"size":18,"opacity":1},"encoding":{"y":{"field":"y","type":"quantitative","title":"ATP-based luminescence (%)"},"color":{"field":"s","type":"nominal","legend":{"orient":"none","legendX":156,"legendY":-13,"title":null,"labelFontSize":7.8,"labelLimit":220,"symbolType":"M-1,-0.1H-0.32A0.34,0.34 0 0 1 0.32,-0.1H1V0.1H0.32A0.34,0.34 0 0 1 -0.32,0.1H-1Z","symbolSize":169,"symbolStrokeWidth":0,"rowPadding":4,"labelOffset":4,"labelExpr":"{'WB':'WB IC₅₀ 0.13 µM','A21':'WB_AlbR (0.21µM) IC₅₀ 0.34 µM','A35':'WB_AlbR (0.35µM) IC₅₀ 0.56 µM','A50':'WB_AlbR (0.5µM) IC₅₀ 1.38 µM'}[datum.label]","encoding":{"symbols":{"shape":{"signal":"datum.value==='A50'?'M-1,-0.1H-0.32V-0.36H0.32V-0.1H1V0.1H0.32V0.36H-0.32V0.1H-1Z':'M-1,-0.1H-0.32A0.34,0.34 0 0 1 0.32,-0.1H1V0.1H0.32A0.34,0.34 0 0 1 -0.32,0.1H-1Z'"}}}}}}},
      {"data":{"name":"meb_p"},"transform":[{"filter":"datum.s=='A50'"}],"mark":{"type":"point","filled":true,"size":18,"opacity":1,"shape":"square"},"encoding":{"y":{"field":"y","type":"quantitative","title":"ATP-based luminescence (%)"}}}
     ]}
    ]},
    {"encoding":{"x":{"field":"x","type":"quantitative","axis":null,"scale":{"domain":[245,757],"nice":false,"zero":false}},"y":{"field":"y","type":"quantitative","axis":null,"scale":{"domain":[443,153],"nice":false,"zero":false}}},"layer":[
     {"data":{"name":"ring"},"mark":{"type":"rule","color":"#a8a8a8","strokeWidth":0.7},"encoding":{"x2":{"field":"x2"},"y2":{"field":"y2"}}},
     {"data":{"name":"tail_meb"},"mark":{"type":"rule","color":"#a8a8a8","strokeWidth":0.7},"encoding":{"x2":{"field":"x2"},"y2":{"field":"y2"}}},
     {"data":{"name":"txt_meb"},"mark":{"type":"text","fontSize":7,"color":"#555"},"encoding":{"text":{"field":"t"}}},
     {"data":{"values":[{"x":500,"y":83,"t":"Mebendazole"}]},"mark":{"type":"text","fontSize":10.5,"fontWeight":"bold","color":"#000"},"encoding":{"text":{"field":"t"}}}
    ]}
   ]},
   {"width":171,"height":97,"resolve":{"scale":{"x":"independent","y":"independent"}},"layer":[
    {"layer":[
     {"data":{"values":[{"k":1}]},"mark":{"type":"rule","strokeDash":[1.2,1.6],"color":"#222","strokeWidth":1},"encoding":{"y":{"datum":50,"type":"quantitative","title":"ATP-based luminescence (%)","axis":{"values":[0,25,50,75,100,125],"tickCount":20,"titlePadding":16,"labelOverlap":false}}}},
     {"encoding":{"x":{"field":"x","type":"quantitative","title":"Concentration (LOG µM)","scale":{"domain":[-2,1.5],"nice":false,"zero":false},"axis":{"values":[-2,-1,0,1],"titlePadding":7,"labelExpr":"toString(datum.value)","labelOverlap":false}},"color":{"field":"s","type":"nominal","scale":{"domain":["WB","A21","A35","A50"],"range":["#000000","#FF9800","#FDD27F","#FF2D8A"]}}},"layer":[
      {"data":{"name":"oxi_c"},"transform":[{"fold":["WB","A21","A35","A50"],"as":["s","y"]}],"mark":{"type":"line","interpolate":"monotone","strokeWidth":1.2},"encoding":{"y":{"field":"y","type":"quantitative","title":"ATP-based luminescence (%)","scale":{"domain":[-15.2,148.6],"nice":false,"zero":false},"axis":{"values":[0,25,50,75,100,125],"tickCount":20,"titlePadding":16,"labelOverlap":false}}}},
      {"data":{"name":"oxi_p"},"mark":{"type":"errorbar","ticks":{"size":5,"opacity":0.65},"rule":{"strokeWidth":0.8,"opacity":0.65}},"encoding":{"y":{"field":"lo","type":"quantitative","title":"ATP-based luminescence (%)"},"y2":{"field":"hi"}}},
      {"data":{"name":"oxi_p"},"transform":[{"filter":"datum.s!='A50'"}],"mark":{"type":"point","filled":true,"size":18,"opacity":1},"encoding":{"y":{"field":"y","type":"quantitative","title":"ATP-based luminescence (%)"},"color":{"field":"s","type":"nominal","legend":{"orient":"none","legendX":157,"legendY":-13,"title":null,"labelFontSize":7.8,"labelLimit":220,"symbolType":"M-1,-0.1H-0.32A0.34,0.34 0 0 1 0.32,-0.1H1V0.1H0.32A0.34,0.34 0 0 1 -0.32,0.1H-1Z","symbolSize":169,"symbolStrokeWidth":0,"rowPadding":4,"labelOffset":4,"labelExpr":"{'WB':'WB IC₅₀ 0.38 µM','A21':'WB_AlbR (0.21µM) IC₅₀ 1.157 µM','A35':'WB_AlbR (0.35µM) IC₅₀ 1.512 µM','A50':'WB_AlbR (0.5µM) IC₅₀ 4.678 µM'}[datum.label]","encoding":{"symbols":{"shape":{"signal":"datum.value==='A50'?'M-1,-0.1H-0.32V-0.36H0.32V-0.1H1V0.1H0.32V0.36H-0.32V0.1H-1Z':'M-1,-0.1H-0.32A0.34,0.34 0 0 1 0.32,-0.1H1V0.1H0.32A0.34,0.34 0 0 1 -0.32,0.1H-1Z'"}}}}}}},
      {"data":{"name":"oxi_p"},"transform":[{"filter":"datum.s=='A50'"}],"mark":{"type":"point","filled":true,"size":18,"opacity":1,"shape":"square"},"encoding":{"y":{"field":"y","type":"quantitative","title":"ATP-based luminescence (%)"}}}
     ]}
    ]},
    {"encoding":{"x":{"field":"x","type":"quantitative","axis":null,"scale":{"domain":[233,745],"nice":false,"zero":false}},"y":{"field":"y","type":"quantitative","axis":null,"scale":{"domain":[440,150],"nice":false,"zero":false}}},"layer":[
     {"data":{"name":"ring"},"mark":{"type":"rule","color":"#a8a8a8","strokeWidth":0.7},"encoding":{"x2":{"field":"x2"},"y2":{"field":"y2"}}},
     {"data":{"name":"tail_oxi"},"mark":{"type":"rule","color":"#a8a8a8","strokeWidth":0.7},"encoding":{"x2":{"field":"x2"},"y2":{"field":"y2"}}},
     {"data":{"name":"txt_oxi"},"mark":{"type":"text","fontSize":7,"color":"#555"},"encoding":{"text":{"field":"t"}}},
     {"data":{"values":[{"x":490,"y":80,"t":"Oxibendazole"}]},"mark":{"type":"text","fontSize":10.5,"fontWeight":"bold","color":"#000"},"encoding":{"text":{"field":"t"}}}
    ]}
   ]}
  ]}
 ]}
]},
{"bounds":"flush","spacing":287,"resolve":{"scale":{"color":"independent","shape":"independent"}},"vconcat":[
 {"bounds":"flush","spacing":0,"resolve":{"scale":{"color":"independent","shape":"independent"}},"hconcat":[
  {"width":19,"height":1,"data":{"values":[]},"mark":"rect","encoding":{}},
  {"bounds":"flush","spacing":320.3,"resolve":{"scale":{"color":"independent","shape":"independent"}},"hconcat":[
   {"data":{"name":"ba"},"bounds":"flush","spacing":3.5,"facet":{"column":{"field":"p","type":"nominal","title":null,"header":null}},
    "spec":{"width":40.5,"height":215.6,"view":{"fill":"#EBEBEB","stroke":null},"encoding":{"x":{"field":"rep","type":"nominal","title":null,"scale":{"domain":["a","b","c"],"paddingInner":0.1,"paddingOuter":0.15},"axis":{"labelAngle":0,"grid":true,"gridColor":"#fff","gridWidth":0.8,"domain":false,"labelColor":"#808080","labelFontWeight":"normal","labelFontSize":8,"tickColor":"#808080","tickSize":2,"tickWidth":0.6}}},
    "layer":[
     {"mark":{"type":"bar","color":"#00BFC4"},"encoding":{"y":{"field":"S","type":"quantitative","stack":null,"title":"Allele Depth","scale":{"domain":[-488,10030],"nice":false,"zero":false},"axis":{"values":[0,1250,2500,3750,5000,6250,7500,8750,10000],"tickCount":20,"format":"d","labelExpr":"datum.value%2500==0?datum.label:''","labelOverlap":false,"grid":true,"gridColor":"#fff","gridWidth":{"condition":{"test":"datum.value%2500==0","value":0.8},"value":0.4},"domain":false,"labelColor":"#808080","labelFontWeight":"normal","labelFontSize":7.5,"tickColor":"#808080","tickSize":{"condition":{"test":"datum.value%2500==0","value":2},"value":0},"tickWidth":0.6,"titleFontSize":8.4,"titlePadding":6}},"y2":{"datum":0}}},
     {"mark":{"type":"bar","color":"#F8766D"},"encoding":{"y":{"field":"S","type":"quantitative","stack":null,"title":"Allele Depth"},"y2":{"field":"T"}}},
     {"transform":[{"filter":"datum.rep=='b'"}],"mark":{"type":"rect","color":"#D9D9D9"},"encoding":{"x":{"value":0},"x2":{"value":40.5},"y":{"datum":10030,"type":"quantitative","title":"Allele Depth"},"y2":{"datum":10490}}},
     {"transform":[{"filter":"datum.rep=='b'"}],"mark":{"type":"text","fontSize":7.5,"fontWeight":"bold","color":"#333"},"encoding":{"y":{"datum":10260,"type":"quantitative","title":"Allele Depth"},"text":{"field":"r"}}},
     {"transform":[{"filter":"datum.rep=='b'&&datum.p=='0.21 R2'"}],"mark":{"type":"text","fontSize":9.5,"fontWeight":"bold","color":"#000","dx":7,"text":"WB AlbR 0.21µM"},"encoding":{"y":{"datum":11220,"type":"quantitative","title":"Allele Depth"}}},
     {"transform":[{"filter":"datum.rep=='b'&&datum.p=='0.35 R2'"}],"mark":{"type":"text","fontSize":9.5,"fontWeight":"bold","color":"#000","dx":7,"text":"WB AlbR 0.35µM"},"encoding":{"y":{"datum":11220,"type":"quantitative","title":"Allele Depth"}}},
     {"transform":[{"filter":"datum.rep=='c'&&datum.p=='0.21 R3'"}],"mark":{"type":"text","fontSize":9.2,"fontWeight":"bold","color":"#000","dx":7.6,"lineBreak":"\n","lineHeight":11,"text":"Technical Replicates\n(sequencing)"},"encoding":{"y":{"datum":-1741,"type":"quantitative","title":"Allele Depth"}}},
     {"transform":[{"filter":"datum.rep=='a'&&datum.p=='0.21 R1'"}],"mark":{"type":"text","fontSize":18.5,"fontWeight":"bold","color":"#000","align":"left","dx":-58.6,"text":"B)"},"encoding":{"y":{"datum":12259,"type":"quantitative","title":"Allele Depth"}}},
     {"transform":[{"filter":"datum.rep=='a'&&datum.p=='0.21 R1'"}],"mark":{"type":"text","fontSize":14,"fontWeight":"bold","color":"#000","align":"left","dx":-24.6,"text":"a)"},"encoding":{"y":{"datum":12015,"type":"quantitative","title":"Allele Depth"}}}
    ]}},
   {"data":{"name":"bb"},"bounds":"flush","spacing":3.4,"facet":{"column":{"field":"p","type":"nominal","title":null,"header":null}},
    "spec":{"width":41.7,"height":215.6,"view":{"fill":"#EBEBEB","stroke":null},"encoding":{"x":{"field":"rep","type":"nominal","title":null,"scale":{"domain":["a","b","c"],"paddingInner":0.1,"paddingOuter":0.15},"axis":{"labelAngle":0,"grid":true,"gridColor":"#fff","gridWidth":0.8,"domain":false,"labelColor":"#808080","labelFontWeight":"normal","labelFontSize":8,"tickColor":"#808080","tickSize":2,"tickWidth":0.6}}},
    "layer":[
     {"mark":{"type":"bar"},"encoding":{"y":{"field":"S","type":"quantitative","stack":null,"title":"Allele Frequency (%)","scale":{"domain":[-5.1,105],"nice":false,"zero":false},"axis":{"values":[0,12.5,25,37.5,50,62.5,75,87.5,100],"tickCount":20,"labelExpr":"datum.value%25==0?datum.label:''","labelOverlap":false,"grid":true,"gridColor":"#fff","gridWidth":{"condition":{"test":"datum.value%25==0","value":0.8},"value":0.4},"domain":false,"labelColor":"#808080","labelFontWeight":"normal","labelFontSize":7.5,"tickColor":"#808080","tickSize":{"condition":{"test":"datum.value%25==0","value":2},"value":0},"tickWidth":0.6,"titleFontSize":8.4,"titlePadding":4}},"y2":{"datum":0},"color":{"datum":"AlbS (GAG)","scale":{"domain":["AlbR (AAG)","AlbS (GAG)"],"range":["#F8766D","#00BFC4"]},"legend":{"orient":"none","legendX":289,"legendY":69,"title":"Mutation","titleFontSize":8.5,"titleFontWeight":"bold","titleColor":"#000","titlePadding":2,"labelFontSize":8.5,"symbolType":"square","symbolSize":100,"symbolStrokeWidth":0,"labelOffset":3,"rowPadding":0}}}},
     {"mark":{"type":"bar"},"encoding":{"y":{"field":"S","type":"quantitative","stack":null,"title":"Allele Frequency (%)"},"y2":{"field":"T"},"color":{"datum":"AlbR (AAG)","legend":null}}},
     {"transform":[{"filter":"datum.rep=='b'"}],"mark":{"type":"rect","color":"#D9D9D9"},"encoding":{"x":{"value":0},"x2":{"value":41.7},"y":{"datum":105,"type":"quantitative","title":"Allele Frequency (%)"},"y2":{"datum":109.8}}},
     {"transform":[{"filter":"datum.rep=='b'"}],"mark":{"type":"text","fontSize":7.5,"fontWeight":"bold","color":"#333"},"encoding":{"y":{"datum":107.4,"type":"quantitative","title":"Allele Frequency (%)"},"text":{"field":"r"}}},
     {"transform":[{"filter":"datum.rep=='b'&&datum.p=='0.21 R2'"}],"mark":{"type":"text","fontSize":9.5,"fontWeight":"bold","color":"#000","dx":10,"text":"WB AlbR 0.21µM"},"encoding":{"y":{"datum":116.3,"type":"quantitative","title":"Allele Frequency (%)"}}},
     {"transform":[{"filter":"datum.rep=='b'&&datum.p=='0.35 R2'"}],"mark":{"type":"text","fontSize":9.5,"fontWeight":"bold","color":"#000","dx":3,"text":"WB AlbR 0.35µM"},"encoding":{"y":{"datum":116.3,"type":"quantitative","title":"Allele Frequency (%)"}}},
     {"transform":[{"filter":"datum.rep=='c'&&datum.p=='0.21 R3'"}],"mark":{"type":"text","fontSize":9.2,"fontWeight":"bold","color":"#000","dx":9.5,"lineBreak":"\n","lineHeight":11,"text":"Technical Replicates\n(sequencing)"},"encoding":{"y":{"datum":-18.2,"type":"quantitative","title":"Allele Frequency (%)"}}},
     {"transform":[{"filter":"datum.rep=='a'&&datum.p=='0.21 R1'"}],"mark":{"type":"text","fontSize":14,"fontWeight":"bold","color":"#000","align":"left","dx":-27.6,"text":"b)"},"encoding":{"y":{"datum":126.2,"type":"quantitative","title":"Allele Frequency (%)"}}}
    ]}}
  ]}
 ]},
 {"bounds":"flush","spacing":5.7,"resolve":{"scale":{"color":"independent","shape":"independent"}},"hconcat":[
  {"data":{"name":"rf"},"width":374.3,"height":165.3,"layer":[
   {"data":{"values":[{"k":1}]},"mark":{"type":"rule","color":"#8B2020","strokeDash":[3,1.5],"strokeWidth":1},"encoding":{"y":{"datum":10,"type":"quantitative","title":"Resistance Factor","axis":{"values":[0,2.5,5,7.5,10,12.5,15],"tickCount":20,"labelExpr":"datum.value%5==0?datum.label:''","labelOverlap":false,"tickSize":{"condition":{"test":"datum.value%5==0","value":4},"value":2.5},"titleFontSize":9.5,"titlePadding":7}}}},
   {"mark":{"type":"bar"},"encoding":{"x":{"field":"drug","type":"nominal","title":null,"sort":["Albendazole","Mebendazole","Parbendazole","Oxibendazole"],"scale":{"paddingInner":0.18,"paddingOuter":0.04},"axis":{"labelAngle":0,"labelFontSize":8.5,"domainColor":"#444","labelPadding":3}},"xOffset":{"field":"d","type":"nominal","scale":{"domain":["WB_AlbR (0.21µM)","WB_AlbR (0.35µM)","WB_AlbR (0.5µM)"],"paddingInner":0.34,"paddingOuter":0.17}},"y":{"field":"v","type":"quantitative","title":"Resistance Factor","scale":{"domain":[0,15],"nice":false},"axis":{"values":[0,2.5,5,7.5,10,12.5,15],"tickCount":20,"labelExpr":"datum.value%5==0?datum.label:''","labelOverlap":false,"tickSize":{"condition":{"test":"datum.value%5==0","value":4},"value":2.5},"titleFontSize":9.5,"titlePadding":7}},"color":{"field":"d","type":"nominal","scale":{"domain":["WB_AlbR (0.21µM)","WB_AlbR (0.35µM)","WB_AlbR (0.5µM)"],"range":["#FDD27A","#FF9600","#FF2D8A"]},"legend":null}}},
   {"data":{"values":[{"drug":"Albendazole","y":17.24}]},"mark":{"type":"text","fontSize":18.5,"fontWeight":"bold","color":"#000","align":"left","dx":-75.7,"text":"C)"},"encoding":{"x":{"field":"drug","type":"nominal","title":null,"sort":["Albendazole","Mebendazole","Parbendazole","Oxibendazole"]},"y":{"field":"y","type":"quantitative","title":"Resistance Factor"}}}
  ]},
  {"width":218.3,"height":165.3,"encoding":{"x":{"field":"x","type":"quantitative","title":null,"scale":{"domain":[0.404,3.6],"nice":false,"zero":false},"axis":{"values":[1,2,3],"labelExpr":"datum.value==1?'0.21':datum.value==2?'0.35':'0.5'","labelFontWeight":"normal","labelFontSize":9,"labelColor":"#222","domainWidth":1,"tickWidth":1}},"y":{"field":"y","type":"quantitative","title":"Proportion of resistant allele","scale":{"domain":[12.7,62.9],"nice":false,"zero":false},"axis":{"orient":"right","values":[20,30,40,50,60],"tickCount":20,"labelOverlap":false,"labelFontWeight":"normal","labelFontSize":9,"labelColor":"#222","domainWidth":1,"tickWidth":1,"titleFontSize":8.8,"titlePadding":10}}},"layer":[
   {"data":{"name":"violin"},"mark":{"type":"area","orient":"horizontal","interpolate":"monotone"},"encoding":{"x":{"field":"lo","type":"quantitative","title":null,"scale":{"domain":[0.404,3.6],"nice":false,"zero":false},"axis":{"values":[1,2,3],"labelExpr":"datum.value==1?'0.21':datum.value==2?'0.35':'0.5'","labelFontWeight":"normal","labelFontSize":9,"labelColor":"#222","domainWidth":1,"tickWidth":1}},"x2":{"field":"hi"},"color":{"field":"d","type":"nominal","scale":{"domain":["WB_AlbR (0.21µM)","WB_AlbR (0.35µM)","WB_AlbR (0.5µM)"],"range":["#FDD27A","#FF9600","#FF1A85"]},"legend":{"orient":"none","legendX":269,"legendY":83,"title":null,"symbolType":"square","symbolSize":169,"symbolStrokeWidth":0,"labelFontSize":10,"labelOffset":5,"rowPadding":1.5,"labelLimit":200}}}},
   {"data":{"name":"brackets"},"mark":{"type":"rule","color":"#333","strokeWidth":1},"encoding":{"x2":{"field":"x2"},"y2":{"field":"y2"}}},
   {"data":{"name":"ptext"},"mark":{"type":"text","fontSize":9,"color":"#333"},"encoding":{"text":{"field":"t"}}}
  ]}
 ]}
]}
]
}
